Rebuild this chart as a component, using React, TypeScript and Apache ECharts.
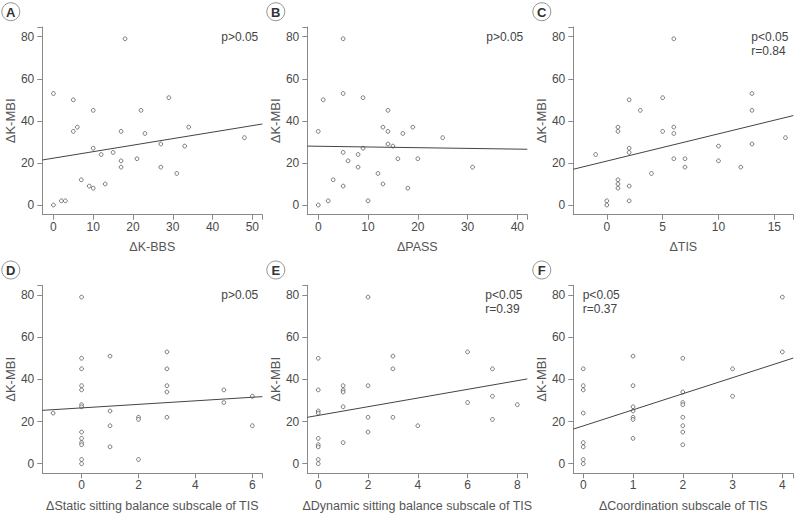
import React, { useEffect, useRef } from 'react';
import * as echarts from 'echarts';

const FONT = '"Liberation Sans", Arial, sans-serif';

const yName = 'ΔK-MBI';
const yTickLabels = [0, 20, 40, 60, 80];
const yExtent = [-4.6, 84.6];

const panelLetters = ['A', 'B', 'C', 'D', 'E', 'F'];
const xNames = [
  'ΔK-BBS',
  'ΔPASS',
  'ΔTIS',
  'ΔStatic sitting balance subscale of TIS',
  'ΔDynamic sitting balance subscale of TIS',
  'ΔCoordination subscale of TIS',
];
const xTickLabels = [
  [0, 10, 20, 30, 40, 50],
  [0, 10, 20, 30, 40],
  [0, 5, 10, 15],
  [0, 2, 4, 6],
  [0, 2, 4, 6, 8],
  [0, 1, 2, 3, 4],
];
const xExtents = [
  [-2.8, 52.5],
  [-2.2, 42],
  [-3, 16.7],
  [-1.38, 6.35],
  [-0.44, 8.4],
  [-0.2, 4.22],
];
const statTexts = [
  ['p>0.05'],
  ['p>0.05'],
  ['p<0.05', 'r=0.84'],
  ['p>0.05'],
  ['p<0.05', 'r=0.39'],
  ['p<0.05', 'r=0.37'],
];
// regression line: y value at the left and right end of the x axis
const fitLineY = [
  [21.4, 38.5],
  [28.0, 26.5],
  [17.0, 42.5],
  [25.3, 31.8],
  [22.0, 40.2],
  [16.4, 50.1],
];

const kbbsData = [
  [0, 53], [0, 0], [2, 2], [3, 2], [5, 50], [5, 35], [6, 37], [7, 12], [9, 9], [10, 8],
  [10, 45], [10, 27], [12, 24], [13, 10], [15, 25], [17, 35], [17, 21], [17, 18], [18, 79],
  [21, 22], [22, 45], [23, 34], [27, 29], [27, 18], [29, 51], [31, 15], [33, 28], [34, 37], [48, 32],
];
const passData = [
  [0, 0], [0, 35], [1, 50], [2, 2], [3, 12], [5, 79], [5, 53], [5, 25], [5, 9], [6, 21],
  [8, 24], [8, 18], [9, 51], [9, 27], [10, 2], [12, 15], [13, 37], [13, 10], [14, 45], [14, 35],
  [14, 29], [15, 28], [16, 22], [17, 34], [18, 8], [19, 37], [20, 22], [25, 32], [31, 18],
];
const tisData = [
  [-1, 24], [0, 2], [0, 0], [1, 37], [1, 35], [1, 12], [1, 10], [1, 8], [2, 50], [2, 27],
  [2, 25], [2, 9], [2, 2], [3, 45], [4, 15], [5, 51], [5, 35], [6, 79], [6, 37], [6, 34],
  [6, 22], [7, 22], [7, 18], [10, 28], [10, 21], [12, 18], [13, 53], [13, 45], [13, 29], [16, 32],
];
const staticData = [
  [-1, 24], [0, 79], [0, 50], [0, 45], [0, 37], [0, 35], [0, 28], [0, 27], [0, 15], [0, 12],
  [0, 10], [0, 9], [0, 2], [0, 0], [1, 51], [1, 25], [1, 18], [1, 8], [2, 22], [2, 21],
  [2, 2], [3, 53], [3, 45], [3, 37], [3, 34], [3, 22], [5, 35], [5, 29], [6, 32], [6, 18],
];
const dynamicData = [
  [0, 50], [0, 35], [0, 25], [0, 24], [0, 12], [0, 9], [0, 8], [0, 2], [0, 0], [1, 37],
  [1, 35], [1, 34], [1, 27], [1, 10], [2, 79], [2, 37], [2, 22], [2, 15], [3, 51], [3, 45],
  [3, 22], [4, 18], [6, 53], [6, 29], [7, 45], [7, 32], [7, 21], [8, 28],
];
const coordData = [
  [0, 45], [0, 37], [0, 35], [0, 24], [0, 10], [0, 8], [0, 2], [0, 0], [1, 51], [1, 37],
  [1, 27], [1, 25], [1, 22], [1, 21], [1, 12], [2, 50], [2, 34], [2, 29], [2, 28], [2, 22],
  [2, 18], [2, 15], [2, 9], [3, 45], [3, 32], [4, 79], [4, 53],
];
const panelData = [kbbsData, passData, tisData, staticData, dynamicData, coordData];

// layout
const gridLefts = [42.3, 307.3, 573.3];
const gridWidth = 220;
const gridTops = [27, 285.3];
const gridHeights = [187.7, 188.1];

export default function App() {
  const ref = useRef<HTMLDivElement>(null);
  useEffect(() => {
    if (!ref.current) return;
    const chart = echarts.init(ref.current, null, { renderer: 'svg' });
    const grids: any[] = [];
    const xAxes: any[] = [];
    const yAxes: any[] = [];
    const series: any[] = [];
    const graphics: any[] = [];
    const axisColor = '#8a8a8a';
    for (let i = 0; i < 6; i++) {
      const col = i % 3;
      const row = Math.floor(i / 3);
      const left = gridLefts[col];
      const top = gridTops[row];
      grids.push({ left, top, width: gridWidth, height: gridHeights[row] });
      const [xmin, xmax] = xExtents[i];
      xAxes.push({
        gridIndex: i,
        type: 'value',
        min: xmin,
        max: xmax,
        name: xNames[i],
        nameLocation: 'middle',
        nameGap: 26,
        nameTextStyle: { fontSize: 12.5, color: '#555', fontFamily: FONT },
        axisLine: { show: true, onZero: false, lineStyle: { color: axisColor, width: 1 } },
        axisTick: {
          show: true,
          length: 5,
          customValues: [...xTickLabels[i], xmax],
          lineStyle: { color: axisColor, width: 1 },
        },
        axisLabel: {
          customValues: xTickLabels[i],
          margin: 6,
          fontSize: 12,
          color: '#4a4a4a',
          fontFamily: FONT,
        },
        splitLine: { show: false },
      });
      yAxes.push({
        gridIndex: i,
        type: 'value',
        min: yExtent[0],
        max: yExtent[1],
        name: yName,
        nameLocation: 'middle',
        nameGap: 24,
        nameTextStyle: { fontSize: 13, color: '#555', fontFamily: FONT },
        axisLine: { show: true, onZero: false, lineStyle: { color: axisColor, width: 1 } },
        axisTick: {
          show: true,
          length: 5,
          customValues: [...yTickLabels, yExtent[1]],
          lineStyle: { color: axisColor, width: 1 },
        },
        axisLabel: {
          customValues: yTickLabels,
          margin: 8,
          fontSize: 12,
          color: '#4a4a4a',
          fontFamily: FONT,
        },
        splitLine: { show: false },
      });
      series.push({
        type: 'line',
        xAxisIndex: i,
        yAxisIndex: i,
        data: [
          [xmin, fitLineY[i][0]],
          [xmax, fitLineY[i][1]],
        ],
        symbol: 'none',
        silent: true,
        lineStyle: { color: '#444', width: 1 },
      });
      series.push({
        type: 'scatter',
        xAxisIndex: i,
        yAxisIndex: i,
        data: panelData[i],
        symbol: 'circle',
        symbolSize: 3.8,
        itemStyle: { color: '#fff', borderColor: '#333', borderWidth: 0.8 },
      });
      // panel letter
      const cx = left - 31.5;
      const cy = top - 15.3;
      graphics.push({
        type: 'circle',
        shape: { cx, cy, r: 9 },
        style: { fill: '#fff', stroke: '#777', lineWidth: 0.8 },
      });
      graphics.push({
        type: 'text',
        x: cx,
        y: cy + 0.5,
        style: {
          text: panelLetters[i],
          font: `bold 13px ${FONT}`,
          fill: '#333',
          textAlign: 'center',
          textVerticalAlign: 'middle',
        },
      });
      // stats text
      const lines = statTexts[i];
      lines.forEach((t, k) => {
        let x: number;
        let align: string;
        if (i === 5) {
          x = left + 9.4;
          align = 'left';
        } else if (lines.length > 1) {
          x = left + 178;
          align = 'left';
        } else {
          x = left + 216;
          align = 'right';
        }
        graphics.push({
          type: 'text',
          x,
          y: top + 9.7 + k * 14,
          style: {
            text: t,
            font: `12px ${FONT}`,
            fill: '#444',
            textAlign: align,
            textVerticalAlign: 'middle',
          },
        });
      });
    }
    chart.setOption({
      animation: false,
      backgroundColor: '#fff',
      grid: grids,
      xAxis: xAxes,
      yAxis: yAxes,
      series,
      graphic: graphics,
    });
    return () => chart.dispose();
  }, []);
  return (
    <div
      ref={ref}
      style={{ position: 'fixed', left: 0, top: 0, width: 795, height: 515 }}
    />
  );
}
